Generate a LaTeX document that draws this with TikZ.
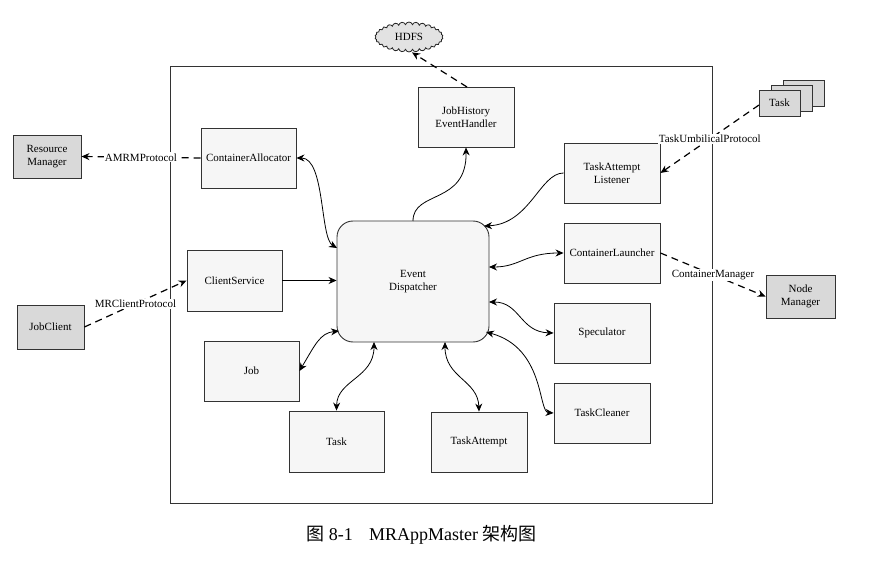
\documentclass[tikz,border=0pt]{standalone}
\usepackage{fontspec}
\setmainfont{Liberation Serif}
\newfontfamily\cjk{Noto Sans CJK SC}
\usetikzlibrary{arrows.meta,shapes.symbols}
\definecolor{innerfill}{HTML}{F6F6F6}
\definecolor{outerfill}{HTML}{D9D9D9}
\tikzset{
  every node/.style={font=\fontsize{11}{12.5}\selectfont},
  box/.style={draw=black!80, line width=0.9pt, fill=innerfill, align=center, inner sep=0pt},
  extbox/.style={draw=black!80, line width=0.9pt, fill=outerfill, align=center, inner sep=0pt},
  tip/.style={-{Stealth[length=8pt,width=7pt]}},
  dtip/.style={{Stealth[length=8pt,width=7pt]}-{Stealth[length=8pt,width=7pt]}},
  conn/.style={line width=0.8pt},
  dconn/.style={line width=1.2pt, dash pattern=on 7pt off 5pt},
  lbl/.style={fill=white, inner sep=1pt}
}
\begin{document}
\begin{tikzpicture}[x=1pt,y=-1pt]
\useasboundingbox (0,0) rectangle (889,561);
% outer frame
\draw[line width=1pt, black!80] (170,67) rectangle (712,503);
% nodes
\node[cloud, cloud puffs=30, cloud puff arc=150, aspect=2.3, draw=black!85, line width=0.8pt, fill=outerfill!75, minimum width=68, minimum height=30, inner sep=0pt] (hdfs) at (409,37) {HDFS};
\node[extbox, minimum width=68, minimum height=43] (rm) at (47,156.5) {Resource\\Manager};
\node[box, minimum width=95, minimum height=60] (ca) at (248.5,158) {ContainerAllocator};
\node[box, minimum width=96, minimum height=60] (jh) at (466,117) {JobHistory\\EventHandler};
\node[box, minimum width=96, minimum height=60] (tal) at (612,173) {TaskAttempt\\Listener};
\node[box, minimum width=96, minimum height=60] (cl) at (612,253) {ContainerLauncher};
\node[box, rounded corners=16pt, minimum width=152, minimum height=121] (ed) at (413,281.5) {Event\\Dispatcher};
\node[box, minimum width=95, minimum height=61] (cs) at (234.5,280.5) {ClientService};
\node[box, minimum width=95, minimum height=60] (job) at (251.5,371) {Job};
\node[box, minimum width=95, minimum height=61] (task) at (336.5,441.5) {Task};
\node[box, minimum width=96, minimum height=60] (ta) at (479,442) {TaskAttempt};
\node[box, minimum width=96, minimum height=60] (spec) at (602,333) {Speculator};
\node[box, minimum width=96, minimum height=60] (tc) at (602,413) {TaskCleaner};
\node[extbox, minimum width=67, minimum height=44] (jc) at (50.5,327) {JobClient};
\node[extbox, minimum width=69, minimum height=43] (nm) at (800.5,296.5) {Node\\Manager};
\node[extbox, minimum width=41, minimum height=26] (t3) at (803.5,93) {};
\node[extbox, minimum width=41, minimum height=26] (t2) at (792,98) {};
\node[extbox, minimum width=41, minimum height=26] (t1) at (779.5,103) {Task};
% coordinates on the dispatcher
\coordinate (edtop) at (413,221);
\coordinate (edca) at (337,248);
\coordinate (edtal) at (484,226);
\coordinate (edcl) at (489,267);
\coordinate (edsp) at (489,302);
\coordinate (edtc) at (486,332);
\coordinate (edta) at (445,342);
\coordinate (edtk) at (374,342);
\coordinate (edjob) at (339,331);
\coordinate (jhtop) at (467,87);
\coordinate (t1in) at (759,105);
% dashed protocol connectors
\draw[dconn, tip] (jhtop) -- ([xshift=3pt]hdfs.south);
\draw[dconn, tip] (ca.west) -- node[lbl] {AMRMProtocol} (rm.east);
\draw[dconn, tip] (jc.east) -- node[lbl] {MRClientProtocol} (cs.west);
\draw[dconn, tip] (t1in) -- node[lbl] {TaskUmbilicalProtocol} (tal.east);
\draw[dconn, tip] (cl.east) -- node[lbl] {ContainerManager} (nm.west);
% solid connectors
\draw[conn, tip] (edtop) .. controls (413,190) and (467,205) .. (jh.south);
\draw[conn, tip] (tal.west) .. controls (540,173) and (530,224) .. (edtal);
\draw[conn, dtip] (ca.east) .. controls (325,158) and (320,238) .. (edca);
\draw[conn, tip] (cs.east) -- (cs.east -| ed.west);
\draw[conn, dtip] (cl.west) .. controls (525,253) and (520,267) .. (edcl);
\draw[conn, dtip] (spec.west) .. controls (520,332) and (520,302) .. (edsp);
\draw[conn, dtip] (tc.west) .. controls (538,412) and (545,348) .. (edtc);
\draw[conn, dtip] (ta.north) .. controls (478,380) and (445,378) .. (edta);
\draw[conn, dtip] (task.north) .. controls (337,380) and (374,378) .. (edtk);
\draw[conn, dtip] (job.east) .. controls (315,345) and (320,333) .. (edjob);
% caption
\node[font=\fontsize{18}{20}\selectfont, anchor=center] (cap) at (421.5,535) {{\cjk 图} 8-1\hspace{0.9em}MRAppMaster {\cjk 架构图}};
\end{tikzpicture}
\end{document}
